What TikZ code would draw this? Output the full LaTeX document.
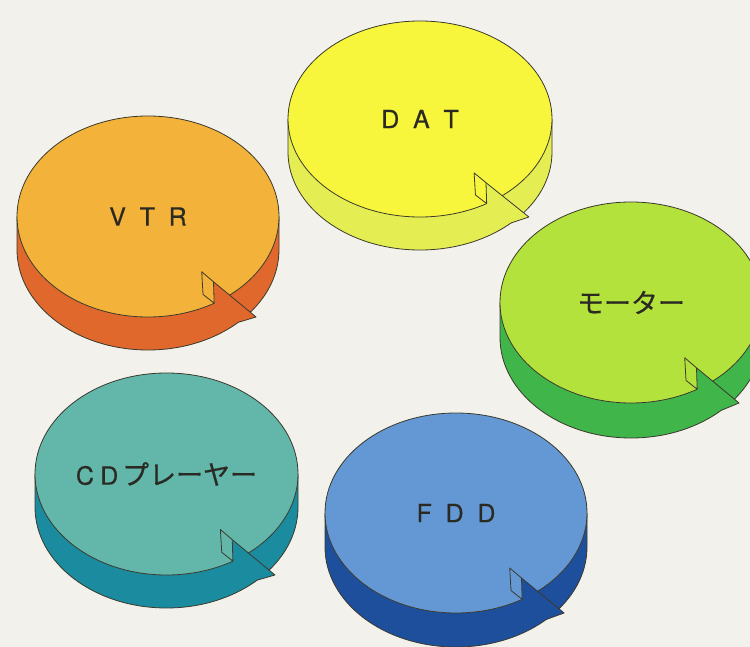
\documentclass[tikz,border=0pt]{standalone}
\usepackage{fontspec}
\setmainfont{TeX Gyre Heros}
\newfontfamily\latinlab[FakeBold=0.5]{TeX Gyre Heros}
\newfontfamily\jpfont[FakeBold=0.4]{Noto Sans CJK JP}

\definecolor{paper}{HTML}{F2F1EB}
\definecolor{inkline}{HTML}{3B3A2C}
\definecolor{inktext}{HTML}{2A2A22}
\definecolor{vtrtop}{HTML}{F3B33A}
\definecolor{vtrside}{HTML}{E0682C}
\definecolor{dattop}{HTML}{F7F53C}
\definecolor{datside}{HTML}{E4EE52}
\definecolor{mottop}{HTML}{B4E23C}
\definecolor{motside}{HTML}{3FB54A}
\definecolor{cdtop}{HTML}{62B7AA}
\definecolor{cdside}{HTML}{1B8B9F}
\definecolor{fddtop}{HTML}{6498D4}
\definecolor{fddside}{HTML}{1E4F9D}

\tikzset{
  outline/.style={draw=inkline, line width=0.8pt, line join=round},
  disklabel/.style={font=\latinlab\fontsize{25}{25}\selectfont, text=inktext, inner sep=0pt},
}

\newcommand\lgap{\hspace{0.55em}}

% #1,#2 centre; #3,#4 radii; #5 band height; #6 top colour; #7 side colour;
% #8 label text; #9 node name
\newcommand\drawdisk[9]{%
  \begin{scope}[shift={(#1,#2)}, x=#3pt, y=-#4pt]
    \pgfmathsetmacro\bandt{#5/#4}
    % side band (lower half of the rim)
    \fill[#7] (-1,0) -- (-1,\bandt)
      arc[start angle=180, end angle=0, x radius=1, y radius=1]
      -- (1,0) arc[start angle=0, end angle=180, x radius=1, y radius=1] -- cycle;
    \draw[outline] (-1,0) -- (-1,\bandt)
      arc[start angle=180, end angle=0, x radius=1, y radius=1] -- (1,0);
    % top face
    \filldraw[outline, fill=#6] (0,0) ellipse[x radius=1, y radius=1];
    % arrow head on the rim
    \coordinate (#9-p1) at (0.41,0.55);
    \coordinate (#9-p2) at (0.50,0.65);
    \coordinate (#9-p3) at (0.505,0.863);
    \coordinate (#9-p4) at (0.42,0.775);
    \coordinate (#9-tip) at (0.825,1.0);
    \coordinate (#9-low) at (0.69,{\bandt+0.724});
    \coordinate (#9-mid) at (0.56,0.95);
    \fill[#7] (#9-p2) -- (#9-tip) -- (#9-low) -- (#9-mid) -- (#9-p3) -- cycle;
    \draw[outline] (#9-p2) -- (#9-tip) -- (#9-low);
    % cut face of the band behind the head
    \filldraw[outline, fill=#6] (#9-p1) -- (#9-p2) -- (#9-p3) -- (#9-p4) -- cycle;
    \node[disklabel] (#9) at (0,0) {#8};
  \end{scope}%
}

\begin{document}
\begin{tikzpicture}[x=1pt, y=-1pt]
  \useasboundingbox (0,0) rectangle (750,647);
  \fill[paper] (0,0) rectangle (750,647);
  \clip (0,0) rectangle (750,647);

  \drawdisk{420}{119}{132}{98}{33}{dattop}{datside}{D\lgap A\lgap T}{dat}
  \drawdisk{148}{216.5}{131}{100.5}{33}{vtrtop}{vtrside}{V\lgap T\lgap R}{vtr}
  \drawdisk{631}{302.5}{131}{100.5}{35}{mottop}{motside}{\jpfont\fontsize{27}{27}\selectfont モーター}{motor}
  \drawdisk{166.5}{474}{131.5}{101}{33}{cdtop}{cdside}{C\hspace{0.25em}D\hspace{0.15em}{\jpfont\fontsize{27}{27}\selectfont プレーヤー}}{cd}
  \drawdisk{456}{513}{131}{100}{34}{fddtop}{fddside}{F\lgap D\lgap D}{fdd}
\end{tikzpicture}
\end{document}
